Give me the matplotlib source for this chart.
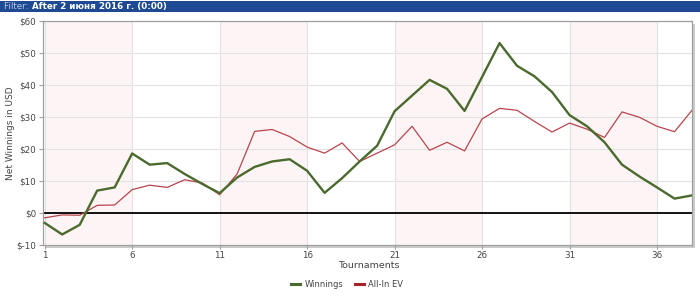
import matplotlib
matplotlib.use("Agg")
import matplotlib.pyplot as plt
from matplotlib.patches import Rectangle

tournaments = list(range(1, 39))
winnings = [-3.1, -6.7, -3.7, 7.0, 8.0, 18.6, 15.1, 15.6, 12.2, 9.1,
            6.2, 11.1, 14.4, 16.1, 16.8, 13.2, 6.3, 10.9, 16.1, 21.0,
            31.8, 36.7, 41.6, 38.8, 31.9, 42.5, 53.1, 46.0, 42.7, 37.8,
            30.6, 27.1, 22.1, 15.1, 11.4, 8.0, 4.5, 5.5]
allin_ev = [-1.5, -0.6, -0.7, 2.4, 2.5, 7.3, 8.7, 8.0, 10.4, 9.4,
            5.7, 12.2, 25.5, 26.1, 23.9, 20.6, 18.7, 21.9, 16.1, 18.7,
            21.3, 27.1, 19.6, 22.1, 19.4, 29.4, 32.7, 32.1, 28.6, 25.3,
            28.1, 26.2, 23.6, 31.6, 29.9, 27.1, 25.4, 32.1]
xticks = [1, 6, 11, 16, 21, 26, 31, 36]
yticks = [-10, 0, 10, 20, 30, 40, 50, 60]
ytick_labels = ["$-10", "$0", "$10", "$20", "$30", "$40", "$50", "$60"]
bands = [(1, 6), (11, 16), (21, 26), (31, 36)]
series_names = ["Winnings", "All-In EV"]
header_prefix = "Filter: "
header_text = "After 2 июня 2016 г. (0:00)"

fig = plt.figure(figsize=(7.0, 2.98), dpi=100)
fig.patch.set_facecolor("white")

# header bar
fig.patches.append(Rectangle((0, 1 - 12/298), 1, 11/298, transform=fig.transFigure,
                             facecolor="#1d4a92", edgecolor="none", zorder=-2))
t1 = fig.text(4/700, 1 - 6.5/298, header_prefix, color="#b8c8e6", fontsize=6.3,
              va="center", ha="left")
fig.canvas.draw()
bb = t1.get_window_extent()
fig.text(bb.x1/700 + 0.5/700, 1 - 6.5/298, header_text, color="white", fontsize=6.3,
         fontweight="bold", va="center", ha="left")

left, right, top, bottom = 42.7/700, 692/700, 1 - 21/298, 1 - 245/298
# shadow
fig.patches.append(Rectangle((left + 3/700, bottom - 3/298), right - left, top - bottom,
                             transform=fig.transFigure, facecolor="#cccccc",
                             edgecolor="none", zorder=-1))
ax = fig.add_axes([left, bottom, right - left, top - bottom])
ax.set_zorder(1)
ax.set_facecolor("white")
for a, b in bands:
    ax.axvspan(a, b, color="#fdf5f5", lw=0, zorder=0)

ax.set_xlim(0.886, 38)
ax.set_ylim(-10, 60)
ax.set_xticks(xticks)
ax.set_yticks(yticks)
ax.set_yticklabels(ytick_labels)
ax.grid(True, color="#e2e2e2", lw=0.8, zorder=1)
ax.axhline(0, color="black", lw=1.3, zorder=2)

ax.plot(tournaments, winnings, color="#4b6a2e", lw=1.7, label=series_names[0], zorder=4)
ax.plot(tournaments, allin_ev, color="#b9444c", lw=0.9, label=series_names[1], zorder=3)

for s in ax.spines.values():
    s.set_color("#a0a0a0")
    s.set_linewidth(0.9)
ax.tick_params(axis="both", labelsize=6.3, colors="#a0a0a0", labelcolor="#444444",
               length=3, width=0.8, pad=1.5)

fig.text(11/700, 1 - 133/298, "Net Winnings in USD", rotation=90, fontsize=6.5,
         color="#444444", ha="center", va="center")
fig.text(369/700, 1 - 265.5/298, "Tournaments", fontsize=6.8, color="#444444",
         ha="center", va="center")

leg = fig.legend(loc="center", bbox_to_anchor=(347/700, 1 - 284.5/298), ncol=2,
                 frameon=False, fontsize=6.0, handlelength=1.1, handletextpad=0.5,
                 columnspacing=1.4)
for h in leg.legend_handles:
    h.set_linewidth(2.2)
leg.legend_handles[1].set_color("#a8202a")
for t in leg.get_texts():
    t.set_color("#444444")

fig.savefig("out.png", dpi=100, facecolor="white")
